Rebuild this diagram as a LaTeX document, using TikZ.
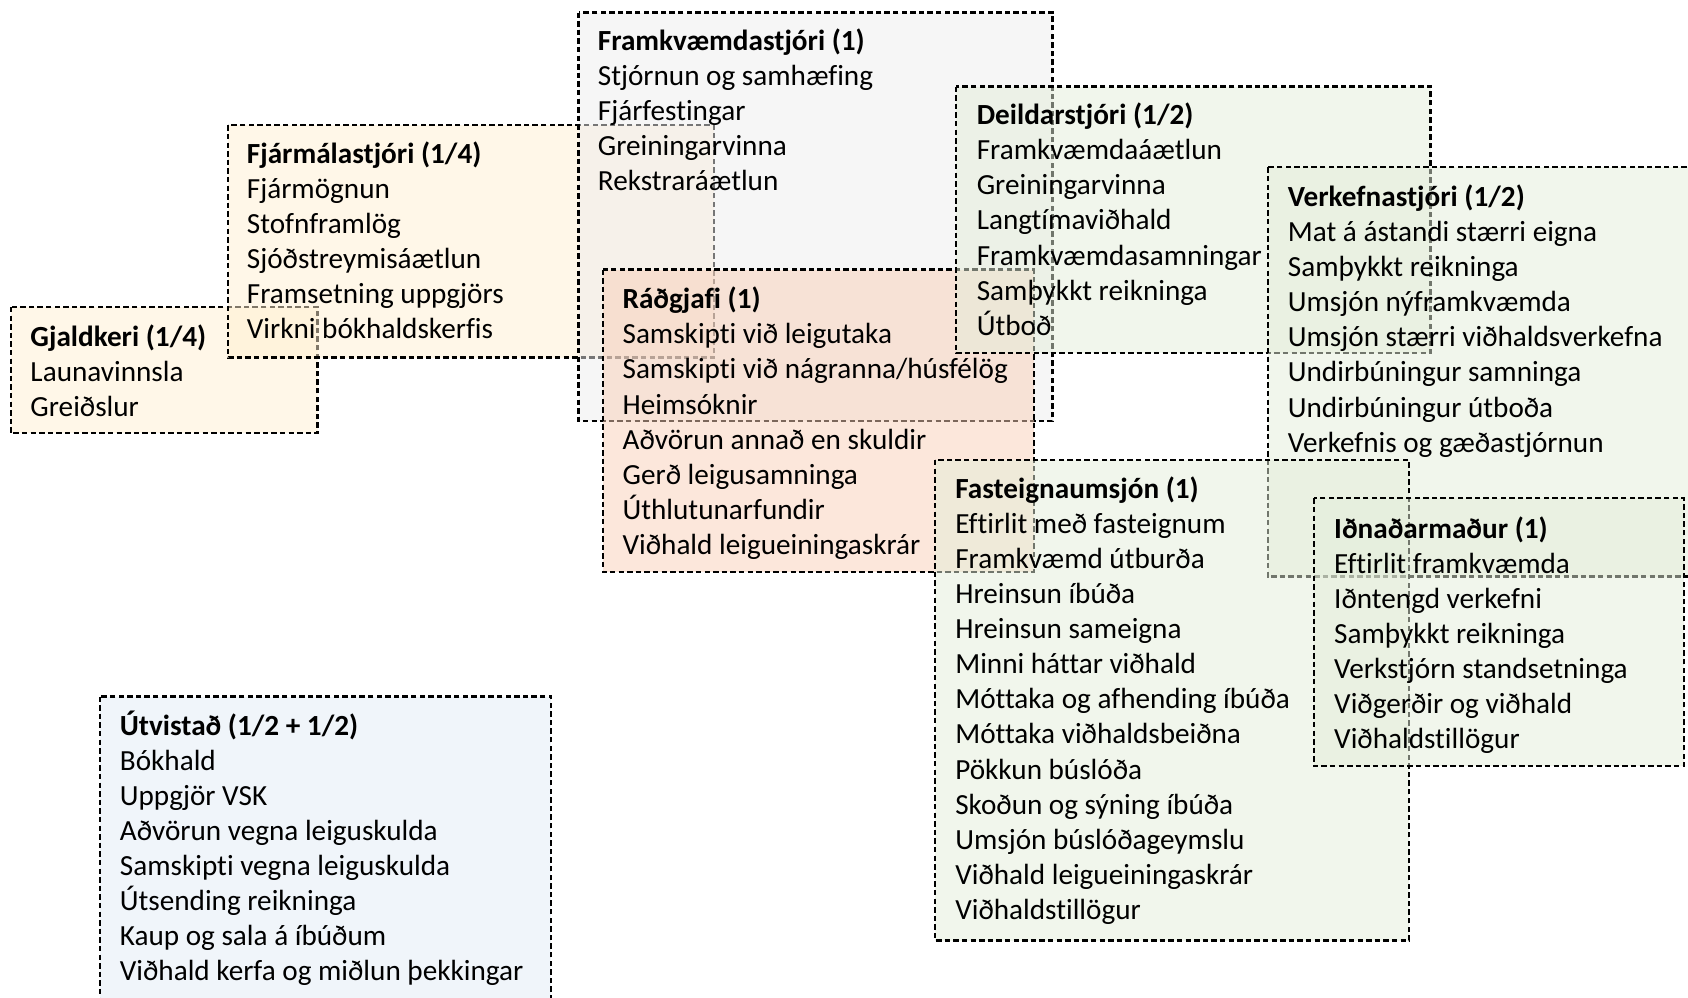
\documentclass[tikz,border=0pt]{standalone}
\usepackage{fontspec}
\setmainfont[Ligatures=NoCommon]{Carlito}
\usepackage{xcolor}
\definecolor{OrgGrey}{RGB}{237, 237, 237}
\definecolor{OrgYellow}{RGB}{255, 239, 209}
\definecolor{OrgPeach}{RGB}{249, 207, 183}
\definecolor{OrgGreen}{RGB}{227, 237, 217}
\definecolor{OrgBlue}{RGB}{225, 235, 245}
\usepackage{tikz}
\usetikzlibrary{positioning}

\begin{document}
\begin{tikzpicture}[x=0.5pt, y=-0.5pt,
    font=\fontsize{14.6}{17.5}\selectfont,
    rolebox/.style={draw=black, line width=1.05pt, dash pattern=on 2.7pt off 1.6pt, fill opacity=0.5},
    roletitle/.style={anchor=base west, inner sep=0pt, font=\fontsize{14.6}{17.5}\selectfont\bfseries},
    roleitem/.style={anchor=base west, inner sep=0pt}]

    \useasboundingbox (0,0) rectangle (1688,997);

    % 1. THE ROLE AREAS (bottom to top)
    % Each area is half transparent, so borders below show through faded
    \draw[rolebox, fill=OrgYellow] (10.7,307) rectangle (317.5,433.3);    % Gjaldkeri
    \draw[rolebox, fill=OrgYellow] (228.1,125.3) rectangle (714,357.5);   % Fjarmalastjori
    \draw[rolebox, fill=OrgGrey] (578.5,12.5) rectangle (1052.5,420.8);   % Framkvaemdastjori
    \draw[rolebox, fill=OrgPeach] (602.8,269.5) rectangle (1033.8,572);   % Radgjafi
    \draw[rolebox, fill=OrgGreen] (956.3,86.5) rectangle (1430.5,353.3);  % Deildarstjori
    \draw[rolebox, fill=OrgGreen] (1267.6,167.3) rectangle (1700,576.5);  % Verkefnastjori
    \draw[rolebox, fill=OrgGreen] (935,460) rectangle (1409.1,940.5);     % Fasteignaumsjon
    \draw[rolebox, fill=OrgGreen] (1313.8,498.3) rectangle (1684,766);    % Idnadarmadur
    \draw[rolebox, fill=OrgBlue] (100.3,696.5) rectangle (551.1,1010);    % Utvistad

    % 2. THE ROLE TITLES AND DUTIES
    % Titles in bold, duties one per line below
    \node[roletitle] (gjald-title) at (30.1,346.4) {Gjaldkeri (1/4)};
    \foreach \t [count=\i] in {Launavinnsla, Greiðslur}
        \node[roleitem] (gjald-\i) at (30.1,346.4+35.1*\i) {\t};

    \node[roletitle] (fjarmal-title) at (246.5,163.4) {Fjármálastjóri (1/4)};
    \foreach \t [count=\i] in {Fjármögnun, Stofnframlög, Sjóðstreymisáætlun,
        Framsetning uppgjörs, Virkni bókhaldskerfis}
        \node[roleitem] (fjarmal-\i) at (246.5,163.4+35.1*\i) {\t};

    \node[roletitle] (framkv-title) at (597.5,50.3) {Framkvæmdastjóri (1)};
    \foreach \t [count=\i] in {Stjórnun og samhæfing, Fjárfestingar,
        Greiningarvinna, Rekstraráætlun}
        \node[roleitem] (framkv-\i) at (597.5,50.3+35.1*\i) {\t};

    \node[roletitle] (radgjafi-title) at (622.2,308.7) {Ráðgjafi (1)};
    \foreach \t [count=\i] in {Samskipti við leigutaka,
        Samskipti við nágranna/húsfélög, Heimsóknir, Aðvörun annað en skuldir,
        Gerð leigusamninga, Úthlutunarfundir, Viðhald leigueiningaskrár}
        \node[roleitem] (radgjafi-\i) at (622.2,308.7+35.1*\i) {\t};

    \node[roletitle] (deild-title) at (976.4,124.6) {Deildarstjóri (1/2)};
    \foreach \t [count=\i] in {Framkvæmdaáætlun, Greiningarvinna,
        Langtímaviðhald, Framkvæmdasamningar, Samþykkt reikninga, Útboð}
        \node[roleitem] (deild-\i) at (976.4,124.6+35.1*\i) {\t};

    \node[roletitle] (verk-title) at (1287.5,206.4) {Verkefnastjóri (1/2)};
    \foreach \t [count=\i] in {Mat á ástandi stærri eigna, Samþykkt reikninga,
        Umsjón nýframkvæmda, Umsjón stærri viðhaldsverkefna,
        Undirbúningur samninga, Undirbúningur útboða, Verkefnis og gæðastjórnun}
        \node[roleitem] (verk-\i) at (1287.5,206.4+35.1*\i) {\t};

    \node[roletitle] (fast-title) at (954.9,498.2) {Fasteignaumsjón (1)};
    \foreach \t [count=\i] in {Eftirlit með fasteignum, Framkvæmd útburða,
        Hreinsun íbúða, Hreinsun sameigna, Minni háttar viðhald,
        Móttaka og afhending íbúða, Móttaka viðhaldsbeiðna, Pökkun búslóða,
        Skoðun og sýning íbúða, Umsjón búslóðageymslu,
        Viðhald leigueiningaskrár, Viðhaldstillögur}
        \node[roleitem] (fast-\i) at (954.9,498.2+35.1*\i) {\t};

    \node[roletitle] (idn-title) at (1333.8,538) {Iðnaðarmaður (1)};
    \foreach \t [count=\i] in {Eftirlit framkvæmda, Iðntengd verkefni,
        Samþykkt reikninga, Verkstjórn standsetninga, Viðgerðir og viðhald,
        Viðhaldstillögur}
        \node[roleitem] (idn-\i) at (1333.8,538+35.1*\i) {\t};

    \node[roletitle] (utv-title) at (119.5,735) {Útvistað (1/2 + 1/2)};
    \foreach \t [count=\i] in {Bókhald, Uppgjör VSK, Aðvörun vegna leiguskulda,
        Samskipti vegna leiguskulda, Útsending reikninga, Kaup og sala á íbúðum,
        Viðhald kerfa og miðlun þekkingar}
        \node[roleitem] (utv-\i) at (119.5,735+35.1*\i) {\t};

\end{tikzpicture}
\end{document}
